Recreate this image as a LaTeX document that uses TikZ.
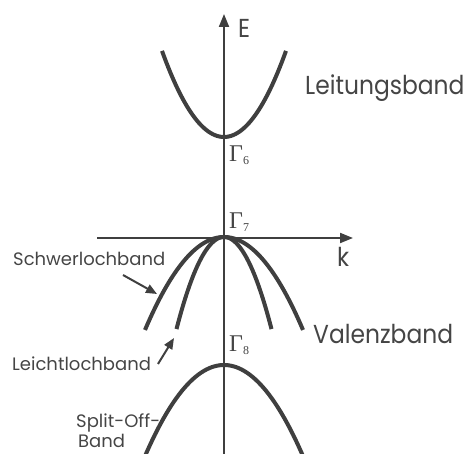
\documentclass[tikz,border=0pt]{standalone}
\usepackage{fontspec}
\setmainfont{Poppins}
\newfontfamily\bigfont[FakeStretch=0.9]{Poppins}
\newfontfamily\gfont{Liberation Serif}
\usetikzlibrary{arrows.meta}
\definecolor{ink}{HTML}{3F3F3F}
\definecolor{txt}{HTML}{454545}
\tikzset{
  axisline/.style={draw=ink, line width=2pt, -{Triangle[length=13pt,width=10pt]}},
  band/.style={draw=ink, line width=4pt},
  pointer/.style={draw=ink, line width=2pt, -{Triangle[length=11pt,width=9pt]}},
  biglabel/.style={text=txt, font=\bigfont\fontsize{26}{28}\selectfont, inner sep=0pt, anchor=base west},
  smalllabel/.style={text=txt, font=\fontsize{18}{20}\selectfont, inner sep=0pt, anchor=base west},
  gammalabel/.style={text=txt, inner sep=0pt, anchor=base west},
}
\newcommand{\gam}[1]{{\gfont\fontsize{24}{24}\selectfont\char"0393\raisebox{-3pt}{\fontsize{12}{12}\selectfont #1}}}
\begin{document}
\begin{tikzpicture}[x=1pt,y=-1pt]
\useasboundingbox (0,0) rectangle (467,454);
% axes
\coordinate (eb) at (224,454);
\coordinate (et) at (224,14);
\coordinate (kl) at (97,238);
\coordinate (kr) at (353,238);
\draw[axisline] (eb) -- (et);
\draw[axisline] (kl) -- (kr);
\node[biglabel] (E) at (238,38) {E};
\node[biglabel] (k) at (337,267) {k};
% bands
\draw[band] plot[domain=-62:62, samples=60] ({224+\x},{137-0.0224*\x*\x});
\draw[band] plot[domain=-79:79, samples=60] ({224+\x},{237+0.0149*\x*\x});
\draw[band] plot[domain=-47.5:47.5, samples=60] ({224+\x},{237+0.0408*\x*\x});
\begin{scope}
\clip (0,0) rectangle (467,454);
\draw[band] plot[domain=-80:80, samples=60] ({224+\x},{365+0.0146*\x*\x});
\end{scope}
% gamma labels
\node[gammalabel] (g6) at (229,162) {\gam{6}};
\node[gammalabel] (g7) at (229,229) {\gam{7}};
\node[gammalabel] (g8) at (229,352) {\gam{8}};
% text labels
\node[biglabel] (lb) at (305,95) {Leitungsband};
\node[biglabel] (vb) at (313,344) {Valenzband};
\node[smalllabel] (sb) at (13,266) {Schwerlochband};
\node[smalllabel] (lh) at (12,371) {Leichtlochband};
\node[smalllabel] (so) at (76,428) {Split-Off-};
\node[smalllabel] (bd) at (78,448) {Band};
% pointers
\coordinate (sbs) at (123,275);
\coordinate (sbe) at (157,294);
\coordinate (lhs) at (158,364);
\coordinate (lhe) at (174,338);
\draw[pointer] (sbs) -- (sbe);
\draw[pointer] (lhs) -- (lhe);
\end{tikzpicture}
\end{document}
